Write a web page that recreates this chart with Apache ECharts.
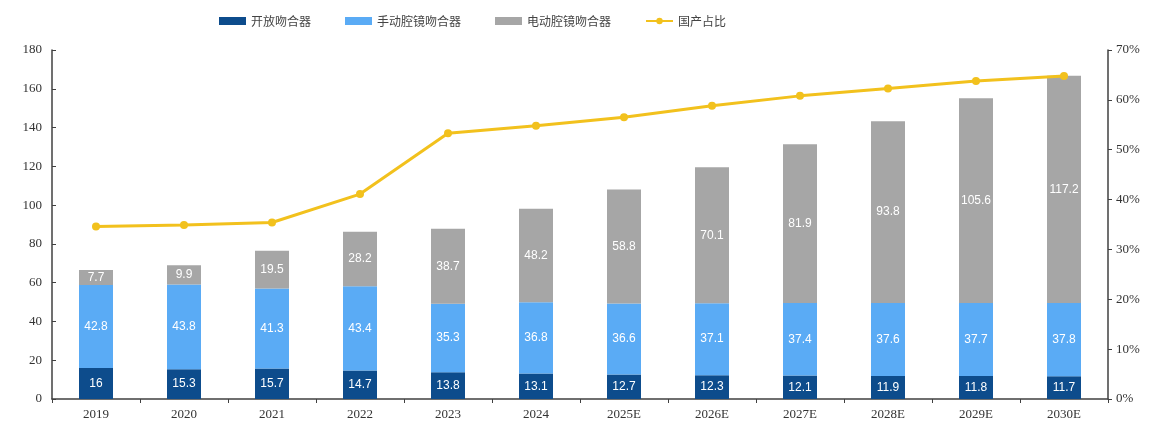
<!DOCTYPE html>
<html><head><meta charset="utf-8">
<script src="https://cdn.jsdelivr.net/npm/echarts@6/dist/echarts.min.js"></script>
<style>html,body{margin:0;padding:0;background:#fff}#c{width:1155px;height:426px}</style>
</head><body><div id="c"></div>
<script>
const categories = ['2019','2020','2021','2022','2023','2024','2025E','2026E','2027E','2028E','2029E','2030E'];
const openStapler = [16,15.3,15.7,14.7,13.8,13.1,12.7,12.3,12.1,11.9,11.8,11.7];
const manualEndo = [42.8,43.8,41.3,43.4,35.3,36.8,36.6,37.1,37.4,37.6,37.7,37.8];
const poweredEndo = [7.7,9.9,19.5,28.2,38.7,48.2,58.8,70.1,81.9,93.8,105.6,117.2];
const domesticShare = [34.6,34.9,35.4,41.1,53.3,54.8,56.5,58.8,60.8,62.3,63.8,64.8];
const seriesNames = ['开放吻合器','手动腔镜吻合器','电动腔镜吻合器','国产占比'];

const chart = echarts.init(document.getElementById('c'));
const serif = '"Liberation Serif","DejaVu Serif",serif';
const cjk = '"Noto Sans CJK SC",sans-serif';
const barLabel = {show:true, position:'inside', color:'#fff', fontSize:12, fontFamily:'"Liberation Sans",Arial,sans-serif'};
function bar(name, data, color){
  return {name, type:'bar', stack:'a', data, barWidth:34, itemStyle:{color}, label:barLabel};
}
chart.setOption({
  animation:false,
  legend:{top:10, left:214, itemWidth:27, itemHeight:8, itemGap:34,
    textStyle:{fontFamily:cjk, fontSize:12, color:'#444'},
    data:[{name:seriesNames[0],icon:'rect'},{name:seriesNames[1],icon:'rect'},{name:seriesNames[2],icon:'rect'},{name:seriesNames[3]}]},
  grid:{left:52, right:47, top:50, bottom:27},
  xAxis:{type:'category', data:categories,
    axisLine:{lineStyle:{color:'#404040', width:1.5}},
    axisTick:{show:true, alignWithLabel:false, length:4, lineStyle:{color:'#404040'}},
    axisLabel:{fontFamily:serif, fontSize:13, color:'#333', margin:9}},
  yAxis:[
    {type:'value', min:0, max:180, interval:20, splitLine:{show:false},
     axisLine:{show:true, lineStyle:{color:'#404040', width:1.5}},
     axisTick:{show:true, inside:true, length:4, lineStyle:{color:'#404040'}},
     axisLabel:{fontFamily:serif, fontSize:13, color:'#333', margin:10}},
    {type:'value', min:0, max:70, interval:10, position:'right', splitLine:{show:false},
     axisLine:{show:true, lineStyle:{color:'#404040', width:1.5}},
     axisTick:{show:true, length:4, lineStyle:{color:'#404040'}},
     axisLabel:{fontFamily:serif, fontSize:13, color:'#333', margin:8, formatter:'{value}%'}}
  ],
  series:[
    bar(seriesNames[0], openStapler, '#0d4c8c'),
    bar(seriesNames[1], manualEndo, '#5aabf5'),
    bar(seriesNames[2], poweredEndo, '#a6a6a6'),
    {name:seriesNames[3], type:'line', yAxisIndex:1, data:domesticShare,
     symbol:'circle', symbolSize:8, lineStyle:{color:'#f2c11d', width:3},
     itemStyle:{color:'#f2c11d'}}
  ]
});
</script></body></html>
